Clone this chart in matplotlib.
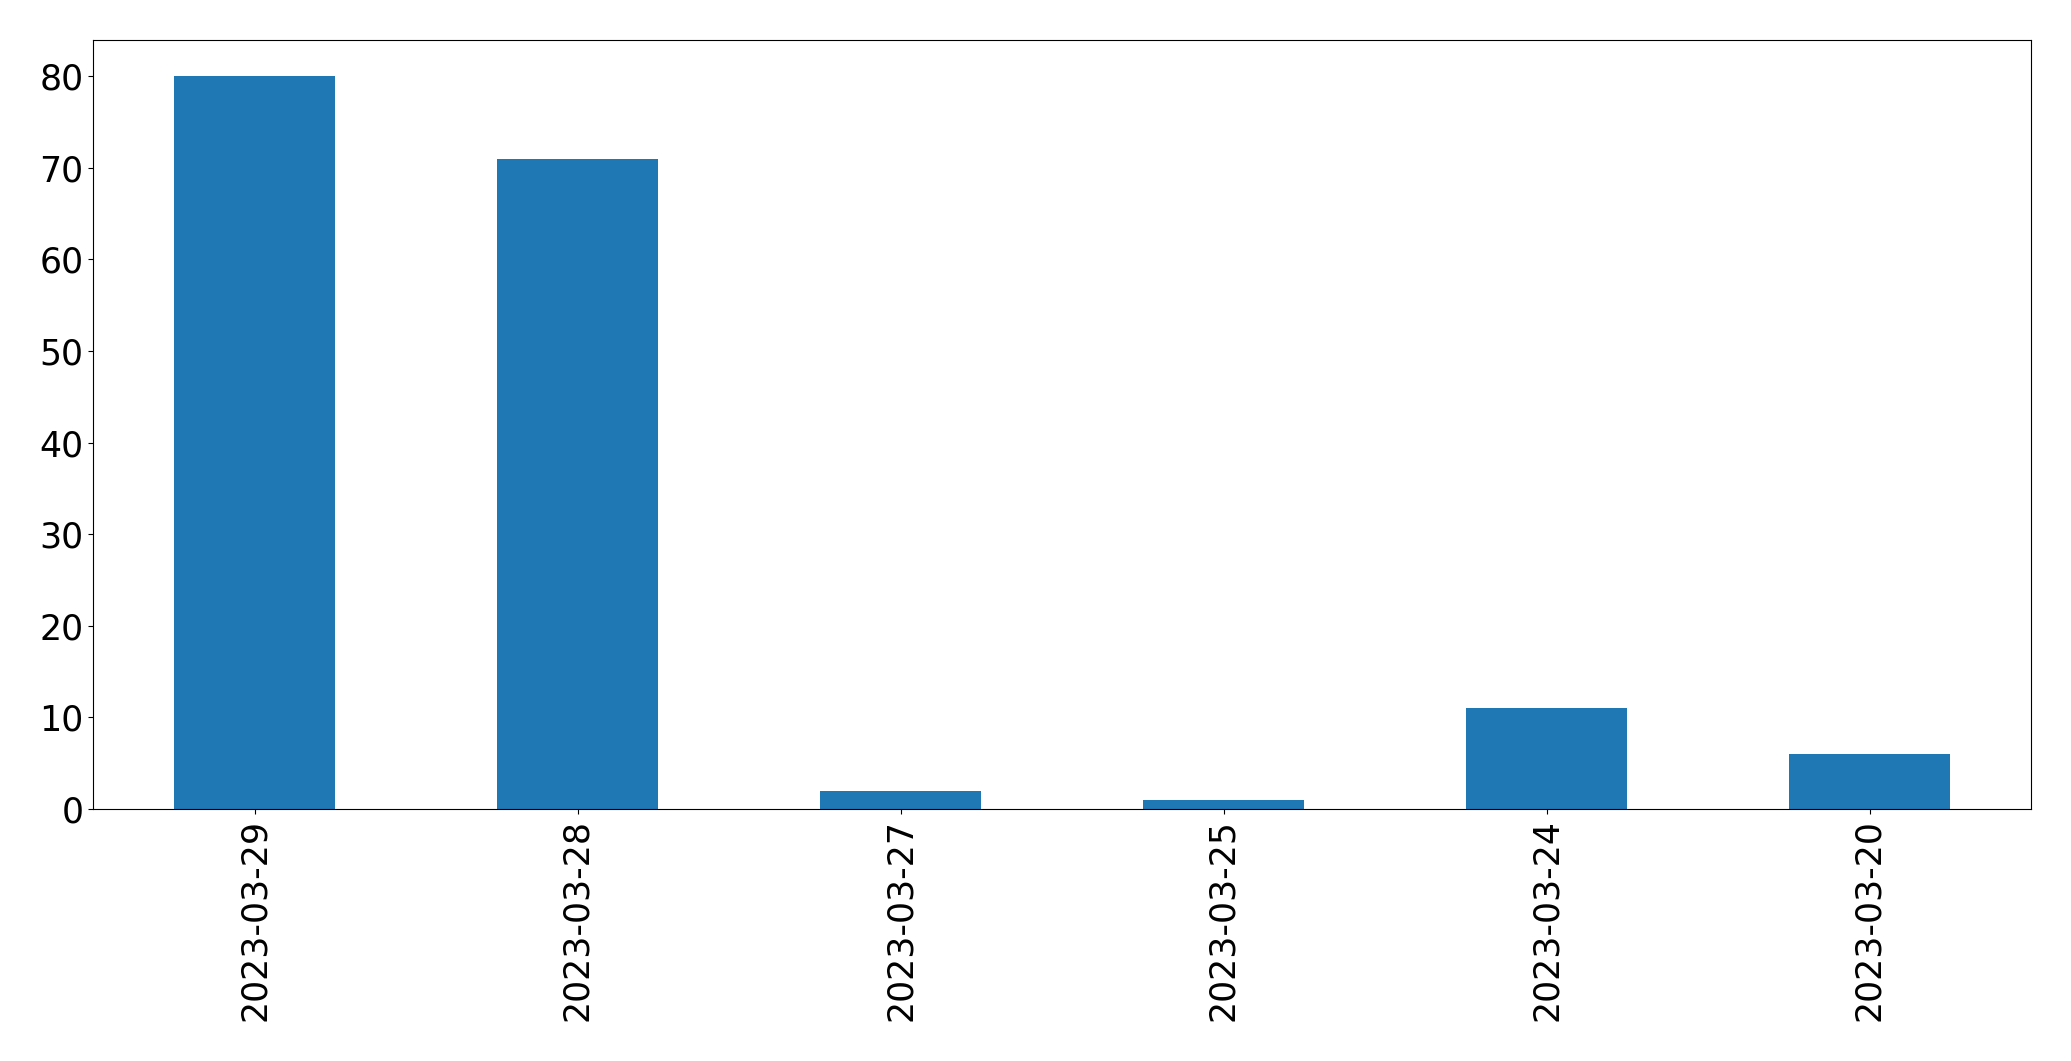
import matplotlib
matplotlib.use("Agg")
import matplotlib.pyplot as plt

dates = ["2023-03-29", "2023-03-28", "2023-03-27", "2023-03-25", "2023-03-24", "2023-03-20"]
counts = [80, 71, 2, 1, 11, 6]

fig = plt.figure(figsize=(20.71, 10.61), dpi=100)
ax = fig.add_axes([93/2071, 1-809/1061, (2031-93)/2071, (809-39.5)/1061])
x = list(range(len(dates)))
ax.bar(x, counts, width=0.5, color="#1f77b4")
ax.set_xlim(-0.5, len(dates)-0.5)
ax.set_ylim(0, max(counts)*1.05)
ax.set_xticks(x)
ax.set_xticklabels(dates, rotation=90)
ax.tick_params(labelsize=25)
fig.savefig("out.png", dpi=100)
